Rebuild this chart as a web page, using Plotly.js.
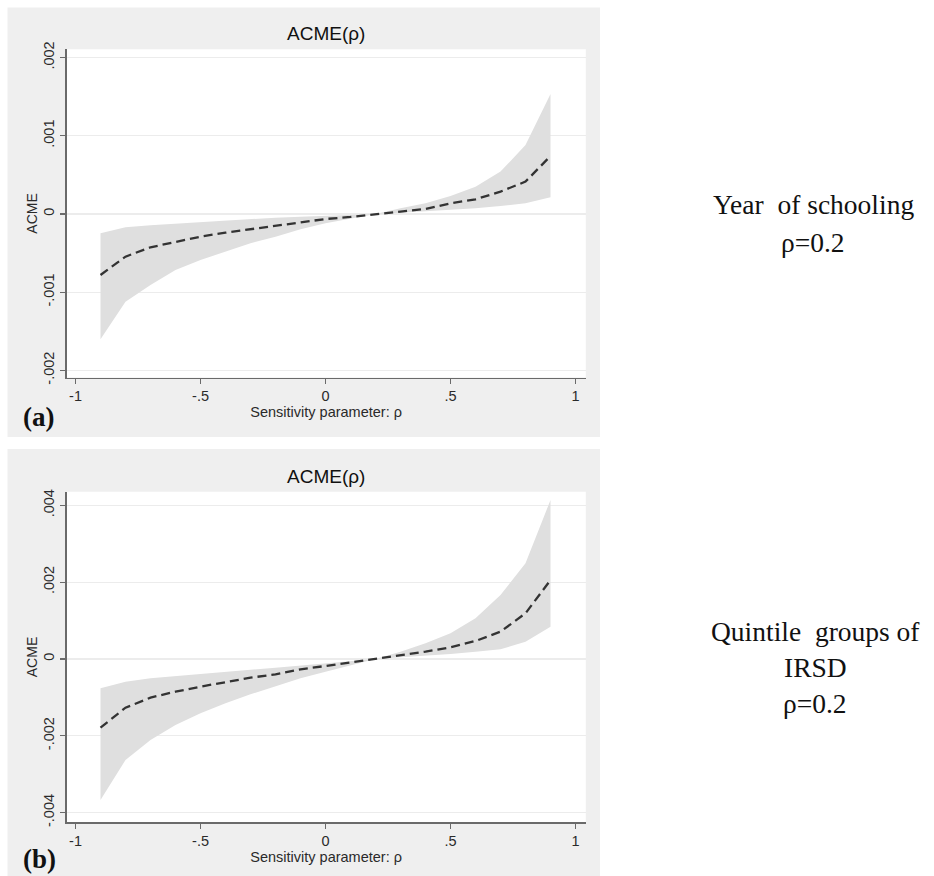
<!DOCTYPE html>
<html>
<head>
<meta charset="utf-8">
<script src="https://cdn.plot.ly/plotly-3.0.1.min.js"></script>
<style>
  html, body { margin: 0; padding: 0; background: #ffffff; }
  #chart { width: 934px; height: 876px; }
</style>
</head>
<body>
<div id="chart"></div>
<script>
// Sensitivity parameter grid
const rho = [-0.9, -0.8, -0.7, -0.6, -0.5, -0.4, -0.3, -0.2, -0.1, 0, 0.1, 0.2, 0.3, 0.4, 0.5, 0.6, 0.7, 0.8, 0.9];

// (a) Year of schooling: ACME(rho) with 95% band
const acmeA  = [-0.000780, -0.000546, -0.000426, -0.000354, -0.000290, -0.000239, -0.000196, -0.000149, -0.000102, -0.000064, -0.000038, 0, 0.000030, 0.000064, 0.000136, 0.000188, 0.000286, 0.000414, 0.000742];
const upperA = [-0.000247, -0.000171, -0.000145, -0.000124, -0.000102, -0.000081, -0.000064, -0.000047, -0.000034, -0.000021, -0.000008, 0, 0.000072, 0.000136, 0.000230, 0.000350, 0.000542, 0.000883, 0.001535];
const lowerA = [-0.001603, -0.001122, -0.000908, -0.000716, -0.000588, -0.000482, -0.000375, -0.000290, -0.000196, -0.000119, -0.000055, 0, 0.000017, 0.000034, 0.000055, 0.000072, 0.000102, 0.000136, 0.000213];

// (b) Quintile groups of IRSD: ACME(rho) with 95% band
const acmeB  = [-0.001787, -0.001267, -0.001006, -0.000850, -0.000720, -0.000607, -0.000486, -0.000399, -0.000269, -0.000182, -0.000087, 0, 0.000087, 0.000191, 0.000304, 0.000469, 0.000711, 0.001189, 0.002056];
const upperB = [-0.000764, -0.000590, -0.000503, -0.000443, -0.000382, -0.000330, -0.000278, -0.000226, -0.000165, -0.000113, -0.000052, 0, 0.000191, 0.000408, 0.000668, 0.001059, 0.001666, 0.002490, 0.004139];
const lowerB = [-0.003670, -0.002629, -0.002108, -0.001718, -0.001414, -0.001154, -0.000920, -0.000720, -0.000503, -0.000330, -0.000156, 0, 0.000043, 0.000078, 0.000130, 0.000191, 0.000252, 0.000451, 0.000842];

// Tick positions and labels
const xTickVals = [-1, -0.5, 0, 0.5, 1];
const xTickText = ['-1', '-.5', '0', '.5', '1'];
const yTickValsA = [-0.002, -0.001, 0, 0.001, 0.002];
const yTickTextA = ['-.002', '-.001', '0', '.001', '.002'];
const yTickValsB = [-0.004, -0.002, 0, 0.002, 0.004];
const yTickTextB = ['-.004', '-.002', '0', '.002', '.004'];

// Text
const panelTitle = 'ACME(\u03c1)';
const xTitle = 'Sensitivity parameter: \u03c1';
const yTitle = 'ACME';
const panelTags = ['(a)', '(b)'];
const noteA = ['Year  of schooling', '\u03c1=0.2'];
const noteB = ['Quintile  groups of', 'IRSD', '\u03c1=0.2'];

const W = 934, H = 876;
const px = v => v / W;
const py = v => 1 - v / H;

const BAND = '#dfdfdf';
const OUTER = '#efefef';
const AXIS = '#6a6a6a';
const GRID = '#ececec';
const TXT = '#2a2a2a';
const SANS = 'Liberation Sans, Arial, sans-serif';
const SERIF = 'Liberation Serif, Times New Roman, serif';

function panel(acme, lower, upper, xa, ya) {
  return [
    { x: rho, y: lower, xaxis: xa, yaxis: ya, mode: 'lines', line: { width: 0, color: BAND },
      hoverinfo: 'skip', showlegend: false },
    { x: rho, y: upper, xaxis: xa, yaxis: ya, mode: 'lines', line: { width: 0, color: BAND },
      fill: 'tonexty', fillcolor: BAND, hoverinfo: 'skip', showlegend: false },
    { x: rho, y: acme, xaxis: xa, yaxis: ya, mode: 'lines',
      line: { color: '#333333', width: 2.3, dash: '9px,5px' }, showlegend: false }
  ];
}

const data = [].concat(
  panel(acmeA, lowerA, upperA, 'x', 'y'),
  panel(acmeB, lowerB, upperB, 'x2', 'y2')
);

const xDom = [px(66.5), px(585.8)];
const xRange = [-1.036, 1.0412];

function xAxis(anchor) {
  return {
    domain: xDom, range: xRange, anchor: anchor,
    tickmode: 'array', tickvals: xTickVals, ticktext: xTickText,
    showgrid: false, zeroline: false,
    showline: true, linecolor: AXIS, linewidth: 1.3,
    ticks: 'outside', ticklen: 5, tickcolor: AXIS, tickwidth: 1.2,
    tickfont: { family: SANS, size: 14.5, color: TXT },
    title: { text: xTitle, font: { family: SANS, size: 14.5, color: TXT }, standoff: 2 }
  };
}
function yAxis(anchor, dom, range, vals, text) {
  return {
    domain: dom, range: range, anchor: anchor,
    tickmode: 'array', tickvals: vals, ticktext: text, tickangle: -90,
    showgrid: true, gridcolor: GRID, gridwidth: 1.2, zeroline: false,
    showline: true, linecolor: AXIS, linewidth: 1.3,
    ticks: 'outside', ticklen: 5, tickcolor: AXIS, tickwidth: 1.2,
    tickfont: { family: SANS, size: 14.5, color: TXT },
    title: { text: yTitle, font: { family: SANS, size: 14, color: TXT }, standoff: 0 }
  };
}

const shapes = [
  // outer grey graph regions
  { type: 'rect', xref: 'paper', yref: 'paper', x0: px(7.5), x1: px(600), y0: py(437), y1: py(7.5),
    fillcolor: OUTER, line: { width: 0 }, layer: 'below' },
  { type: 'rect', xref: 'paper', yref: 'paper', x0: px(7.5), x1: px(600), y0: py(876), y1: py(449),
    fillcolor: OUTER, line: { width: 0 }, layer: 'below' },
  // white plot regions
  { type: 'rect', xref: 'paper', yref: 'paper', x0: xDom[0], x1: xDom[1], y0: py(377.5), y1: py(49.3),
    fillcolor: '#ffffff', line: { width: 0 }, layer: 'below' },
  { type: 'rect', xref: 'paper', yref: 'paper', x0: xDom[0], x1: xDom[1], y0: py(822.3), y1: py(491.7),
    fillcolor: '#ffffff', line: { width: 0 }, layer: 'below' }
];

const annotations = [];
// panel titles
[33, 477].forEach(cy => {
  annotations.push({ xref: 'paper', yref: 'paper', x: px(326), y: py(cy), xanchor: 'center', yanchor: 'middle',
    text: panelTitle, showarrow: false, font: { family: SANS, size: 19, color: '#111111' } });
});
// panel tags
[[417, panelTags[0]], [859, panelTags[1]]].forEach(([cy, t]) => {
  annotations.push({ xref: 'paper', yref: 'paper', x: px(21), y: py(cy), xanchor: 'left', yanchor: 'middle',
    text: '<b>' + t + '</b>', showarrow: false, font: { family: SERIF, size: 27, color: '#111111' } });
});
// side notes
const noteCentersA = [205, 242];
noteA.forEach((t, i) => {
  annotations.push({ xref: 'paper', yref: 'paper', x: px(813), y: py(noteCentersA[i]), xanchor: 'center', yanchor: 'middle',
    text: t, showarrow: false, font: { family: SERIF, size: 27.5, color: '#111111' } });
});
const noteCentersB = [631, 667, 703];
noteB.forEach((t, i) => {
  annotations.push({ xref: 'paper', yref: 'paper', x: px(815), y: py(noteCentersB[i]), xanchor: 'center', yanchor: 'middle',
    text: t, showarrow: false, font: { family: SERIF, size: 27.5, color: '#111111' } });
});

const layout = {
  width: W, height: H,
  margin: { l: 0, r: 0, t: 0, b: 0, pad: 0 },
  paper_bgcolor: '#ffffff', plot_bgcolor: 'rgba(0,0,0,0)',
  showlegend: false,
  xaxis: xAxis('y'),
  yaxis: yAxis('x', [py(377.5), py(49.3)], [-0.002092, 0.002107], yTickValsA, yTickTextA),
  xaxis2: xAxis('y2'),
  yaxis2: yAxis('x2', [py(822.3), py(491.7)], [-0.004251, 0.004355], yTickValsB, yTickTextB),
  shapes: shapes,
  annotations: annotations
};

Plotly.newPlot('chart', data, layout, { staticPlot: true, displayModeBar: false });
</script>
</body>
</html>
